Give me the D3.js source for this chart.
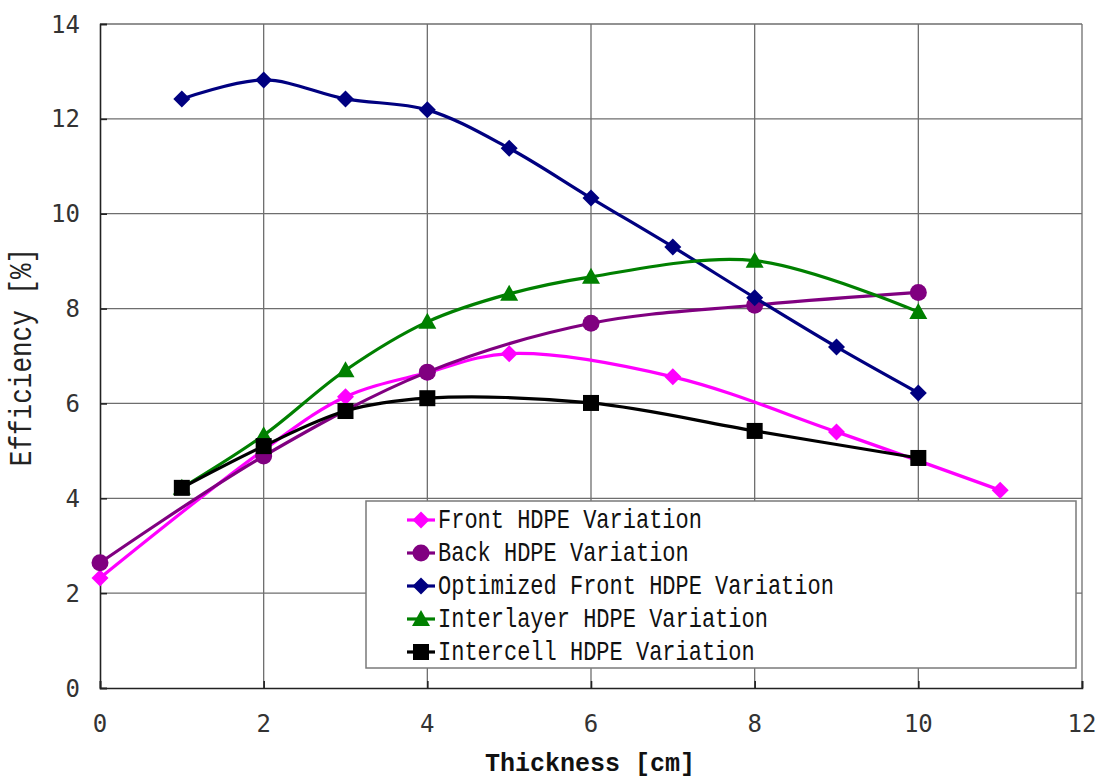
<!DOCTYPE html>
<html>
<head>
<meta charset="utf-8">
<script src="https://cdn.jsdelivr.net/npm/d3@7"></script>
<style>
  html, body { margin: 0; padding: 0; background: #fff; }
  svg { display: block; }
</style>
</head>
<body>
<div id="chart"></div>
<script>
// ── Data ────────────────────────────────────────────────────────────────────
const frontX      = [0, 2, 3, 4, 5, 7, 9, 11];
const frontY      = [2.32, 5.02, 6.14, 6.65, 7.05, 6.56, 5.40, 4.17];
const backX       = [0, 2, 4, 6, 8, 10];
const backY       = [2.64, 4.89, 6.66, 7.69, 8.07, 8.34];
const optX        = [1, 2, 3, 4, 5, 6, 7, 8, 9, 10];
const optY        = [12.42, 12.82, 12.42, 12.19, 11.38, 10.33, 9.30, 8.23, 7.19, 6.22];
const interX      = [1, 2, 3, 4, 5, 6, 8, 10];
const interY      = [4.22, 5.33, 6.70, 7.72, 8.31, 8.67, 9.01, 7.93];
const intercellX  = [1, 2, 3, 4, 6, 8, 10];
const intercellY  = [4.22, 5.10, 5.84, 6.11, 6.01, 5.42, 4.85];

const seriesNames = [
  'Front HDPE Variation',
  'Back HDPE Variation',
  'Optimized Front HDPE Variation',
  'Interlayer HDPE Variation',
  'Intercell HDPE Variation'
];
const xTicks = [0, 2, 4, 6, 8, 10, 12];
const yTicks = [0, 2, 4, 6, 8, 10, 12, 14];

const series = [
  { name: seriesNames[0], xs: frontX,     ys: frontY,     color: '#FF00FF', shape: 'diamond' },
  { name: seriesNames[1], xs: backX,      ys: backY,      color: '#800080', shape: 'circle' },
  { name: seriesNames[2], xs: optX,       ys: optY,       color: '#000080', shape: 'diamond' },
  { name: seriesNames[3], xs: interX,     ys: interY,     color: '#008000', shape: 'triangle' },
  { name: seriesNames[4], xs: intercellX, ys: intercellY, color: '#000000', shape: 'square' }
];

// ── Layout ──────────────────────────────────────────────────────────────────
const W = 1099, H = 780;
const m = { left: 100, right: 17, top: 24, bottom: 92 };

const svg = d3.select('#chart').append('svg')
  .attr('width', W).attr('height', H);

const x = d3.scaleLinear().domain([0, 12]).range([m.left, W - m.right]);
const y = d3.scaleLinear().domain([0, 14]).range([H - m.bottom, m.top]);

// grid
const grid = svg.append('g');
grid.selectAll('line.gy').data(yTicks.slice(1)).join('line')
  .attr('x1', x(0)).attr('x2', x(12))
  .attr('y1', d => y(d)).attr('y2', d => y(d))
  .attr('stroke', '#6e6e6e').attr('stroke-width', 1.3);
grid.selectAll('line.gx').data(xTicks.slice(1)).join('line')
  .attr('y1', y(0)).attr('y2', y(14))
  .attr('x1', d => x(d)).attr('x2', d => x(d))
  .attr('stroke', '#6e6e6e').attr('stroke-width', 1.3);

// axes
const yAxis = svg.append('g')
  .attr('transform', `translate(${x(0)},0)`)
  .call(d3.axisRight(y).tickValues(yTicks).tickSize(7).tickFormat(''));
const xAxis = svg.append('g')
  .attr('transform', `translate(0,${y(0)})`)
  .call(d3.axisTop(x).tickValues(xTicks).tickSize(7).tickFormat(''));
[xAxis, yAxis].forEach(a => {
  a.select('.domain').attr('stroke', '#222').attr('stroke-width', 1.6);
  a.selectAll('.tick line').attr('stroke', '#222').attr('stroke-width', 1.6);
});

svg.append('g').selectAll('text').data(yTicks).join('text')
  .attr('x', 80).attr('y', d => y(d)).attr('dy', '0.36em')
  .attr('text-anchor', 'end')
  .attr('font-family', '"DejaVu Sans Mono", monospace').attr('font-size', 24)
  .attr('fill', '#333')
  .text(d => d);

svg.append('g').selectAll('text').data(xTicks).join('text')
  .attr('x', d => x(d)).attr('y', 732)
  .attr('text-anchor', 'middle')
  .attr('font-family', '"DejaVu Sans Mono", monospace').attr('font-size', 24)
  .attr('fill', '#333')
  .text(d => d);

// axis titles
svg.append('text')
  .attr('transform', 'translate(31,357) rotate(-90) scale(1,1.2)')
  .attr('text-anchor', 'middle')
  .attr('font-family', '"Liberation Mono", "Courier New", monospace').attr('font-size', 26)
  .attr('fill', '#222')
  .text('Efficiency [%]');

svg.append('text')
  .attr('x', 590).attr('y', 771)
  .attr('text-anchor', 'middle')
  .attr('font-family', '"Liberation Mono", "Courier New", monospace').attr('font-size', 25)
  .attr('font-weight', 'bold')
  .attr('fill', '#111')
  .text('Thickness [cm]');

// ── Markers ─────────────────────────────────────────────────────────────────
function marker(g, shape, color) {
  if (shape === 'circle') {
    g.append('circle').attr('r', 8.5).attr('fill', color);
  } else if (shape === 'diamond') {
    g.append('path').attr('d', 'M0,-8.5L8.5,0L0,8.5L-8.5,0Z').attr('fill', color);
  } else if (shape === 'square') {
    g.append('rect').attr('x', -8).attr('y', -8).attr('width', 16).attr('height', 16).attr('fill', color);
  } else if (shape === 'triangle') {
    g.append('path').attr('d', 'M0,-9L9,7L-9,7Z').attr('fill', color);
  }
}

const line = d3.line()
  .x(d => x(d[0])).y(d => y(d[1]))
  .curve(d3.curveCatmullRom.alpha(0.5));

const plot = svg.append('g');
series.forEach(s => {
  const pts = s.xs.map((v, i) => [v, s.ys[i]]);
  plot.append('path')
    .datum(pts)
    .attr('d', line)
    .attr('fill', 'none')
    .attr('stroke', s.color)
    .attr('stroke-width', 3.2);
  pts.forEach(p => {
    const g = plot.append('g').attr('transform', `translate(${x(p[0])},${y(p[1])})`);
    marker(g, s.shape, s.color);
  });
});

// ── Legend ──────────────────────────────────────────────────────────────────
const leg = svg.append('g').attr('transform', 'translate(366,501)');
leg.append('rect')
  .attr('width', 710).attr('height', 167)
  .attr('fill', '#fff').attr('stroke', '#7a7a7a').attr('stroke-width', 1.5);

series.forEach((s, i) => {
  const cy = 19 + i * 33;
  const row = leg.append('g').attr('transform', `translate(0,${cy})`);
  row.append('line')
    .attr('x1', 41).attr('x2', 69)
    .attr('stroke', s.color).attr('stroke-width', 3.2);
  marker(row.append('g').attr('transform', 'translate(55,0)'), s.shape, s.color);
  row.append('text')
    .attr('transform', 'translate(72,8) scale(1,1.25)')
    .attr('font-family', '"Liberation Mono", "Courier New", monospace').attr('font-size', 22)
    .attr('fill', '#111')
    .text(s.name);
});
</script>
</body>
</html>
